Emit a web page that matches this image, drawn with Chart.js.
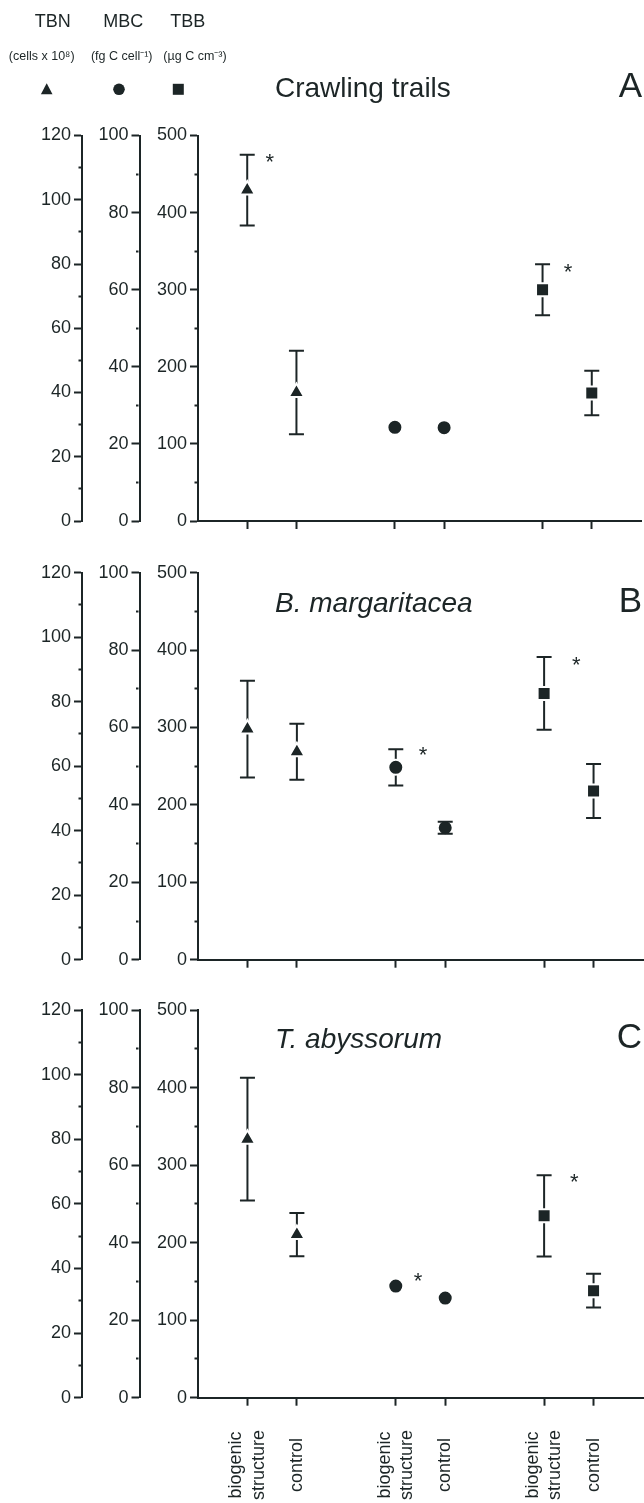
<!DOCTYPE html>
<html>
<head>
<meta charset="utf-8">
<script src="https://cdn.jsdelivr.net/npm/chart.js@4.4.1/dist/chart.umd.min.js"></script>
<style>
  html, body { margin: 0; background: #fff; overflow: hidden; }
  #wrap { position: relative; width: 644px; height: 1503px; }
  .box { position: absolute; left: 0; width: 644px; }
  canvas { display: block; }
</style>
</head>
<body>
<div id="wrap">
  <div class="box" style="top:0;height:540px"><canvas id="chartA"></canvas></div>
  <div class="box" style="top:540px;height:440px"><canvas id="chartB"></canvas></div>
  <div class="box" style="top:980px;height:523px"><canvas id="chartC"></canvas></div>
</div>
<script>
/* datos */
const xTicks = [1, 2, 4, 5, 7, 8];
const xLabels = [["biogenic", "structure"], "control", ["biogenic", "structure"], "control", ["biogenic", "structure"], "control"];
const panelTitles = ["Crawling trails", "B. margaritacea", "T. abyssorum"];
const panelLetters = ["A", "B", "C"];

// TBN (cells x 10^8) -> biogenic structure, control
const tbnMean = [[103, 40], [71.5, 64.5], [80, 50.5]];
const tbnErr = [[11, 13], [15, 8.7], [19, 6.7]];
// MBC (fg C cell-1)
const mbcMean = [[24.3, 24.2], [49.7, 34.1], [28.8, 25.7]];
const mbcErr = [[0, 0], [4.7, 1.55], [0, 0]];
// TBB (ug C cm-3)
const tbbMean = [[300, 166], [344, 218], [234.5, 138]];
const tbbErr = [[33, 29], [47, 35], [52.5, 21.7]];

// asteriscos: x, eje, y
const stars = [
  [[1.46, "yTBN", 113.4], [7.52, "yTBB", 330.7]],
  [[4.55, "yMBC", 54.4], [7.65, "yTBB", 388.5]],
  [[4.45, "yMBC", 31.6], [7.61, "yTBB", 285]]
];

const tbnLabels = [0, 20, 40, 60, 80, 100, 120];
const mbcLabels = [0, 20, 40, 60, 80, 100];
const tbbLabels = [0, 100, 200, 300, 400, 500];

const ink = "#1c2526";
const FONT = "'Liberation Sans', Arial, Helvetica, sans-serif";

/* barras de error: linea antes de los puntos, topes despues */
function eachBar(chart, fn) {
  const xs = chart.scales.x;
  chart.data.datasets.forEach(ds => {
    const ys = chart.scales[ds.yAxisID];
    ds.data.forEach((p, i) => {
      const e = ds.errors[i];
      if (!e) return;
      fn(xs.getPixelForValue(p.x), ys.getPixelForValue(p.y + e), ys.getPixelForValue(p.y - e));
    });
  });
}
const errorBars = {
  id: "errorBars",
  beforeDatasetsDraw(chart) {
    const ctx = chart.ctx;
    ctx.save();
    ctx.strokeStyle = ink;
    ctx.lineWidth = 2;
    eachBar(chart, (px, top, bot) => {
      ctx.beginPath();
      ctx.moveTo(px, top); ctx.lineTo(px, bot);
      ctx.stroke();
    });
    ctx.restore();
  },
  afterDatasetsDraw(chart) {
    const ctx = chart.ctx;
    ctx.save();
    ctx.strokeStyle = ink;
    ctx.lineWidth = 2;
    eachBar(chart, (px, top, bot) => {
      ctx.beginPath();
      ctx.moveTo(px - 7.5, top); ctx.lineTo(px + 7.5, top);
      ctx.moveTo(px - 7.5, bot); ctx.lineTo(px + 7.5, bot);
      ctx.stroke();
    });
    ctx.restore();
  }
};

function panelPlugin(p, dy) {
  return {
    id: "panelText" + p,
    afterDraw(chart) {
      const { ctx, chartArea } = chart;
      ctx.save();
      ctx.fillStyle = ink;
      ctx.textBaseline = "alphabetic";
      ctx.textAlign = "left";
      ctx.font = (p > 0 ? "italic " : "") + "28px " + FONT;
      ctx.fillText(panelTitles[p], chartArea.left + 77, chartArea.top + dy);
      ctx.textAlign = "right";
      ctx.font = "35px " + FONT;
      ctx.fillText(panelLetters[p], 642, chartArea.top + dy);
      // asteriscos
      ctx.textAlign = "center";
      ctx.font = "22px " + FONT;
      stars[p].forEach(([xv, axis, yv]) => {
        const px = chart.scales.x.getPixelForValue(xv);
        const py = chart.scales[axis].getPixelForValue(yv);
        ctx.fillText("*", px, py + 0.575 * 22);
      });
      ctx.restore();
    }
  };
}

/* etiquetas del eje x, centradas y giradas (solo panel C) */
const xText = {
  id: "xText",
  afterDraw(chart) {
    const { ctx, chartArea } = chart;
    const xs = chart.scales.x;
    const lh = 22.3;
    ctx.save();
    ctx.fillStyle = ink;
    ctx.font = "18px " + FONT;
    ctx.textAlign = "center";
    ctx.textBaseline = "middle";
    xTicks.forEach((v, i) => {
      const lines = Array.isArray(xLabels[i]) ? xLabels[i] : [xLabels[i]];
      ctx.save();
      ctx.translate(xs.getPixelForValue(v), chartArea.bottom + 67.3);
      ctx.rotate(-Math.PI / 2);
      lines.forEach((t, j) => ctx.fillText(t, 0, (j - (lines.length - 1) / 2) * lh));
      ctx.restore();
    });
    ctx.restore();
  }
};

/* cabecera con las variables (panel A) */
const header = {
  id: "header",
  afterDraw(chart) {
    const ctx = chart.ctx;
    ctx.save();
    ctx.fillStyle = ink;
    ctx.textAlign = "center";
    ctx.textBaseline = "alphabetic";
    ctx.font = "18px " + FONT;
    [["TBN", 52.7], ["MBC", 123.3], ["TBB", 187.7]].forEach(([t, x]) => ctx.fillText(t, x, 27.3));
    ctx.font = "12.5px " + FONT;
    [["(cells x 10\u2078)", 41.7], ["(fg C cell\u207B\u00B9)", 121.7], ["(\u00B5g C cm\u207B\u00B3)", 195]].forEach(([t, x]) => ctx.fillText(t, x, 59.5));
    // simbolos
    ctx.beginPath();
    ctx.moveTo(46.7, 83.3); ctx.lineTo(52.5, 94.3); ctx.lineTo(40.9, 94.3); ctx.closePath();
    ctx.fill();
    ctx.beginPath();
    ctx.arc(119, 89.3, 5.8, 0, Math.PI * 2);
    ctx.fill();
    ctx.fillRect(172.8, 83.8, 11, 11);
    ctx.restore();
  }
};

function yAxis(max, step, labels, weight, width) {
  return {
    type: "linear",
    position: "left",
    min: 0,
    max: max,
    weight: weight,
    afterFit: s => { s.width = width; },
    ticks: {
      stepSize: step,
      autoSkip: false,
      color: ink,
      padding: 3,
      font: { family: FONT, size: 18 },
      callback: v => labels.includes(v) ? String(v) : ""
    },
    grid: {
      drawOnChartArea: false,
      tickLength: 8,
      tickWidth: 2,
      tickColor: ink,
      tickBorderDash: c => labels.includes(c.tick.value) ? [] : [0, 4.5, 2.5, 10]
    },
    border: { display: true, color: ink, width: 2 }
  };
}

function makeChart(id, p, pad, xh, extra) {
  const pts = (arr, off) => arr[p].map((v, i) => ({ x: xTicks[off + i], y: v }));
  const base = {
    showLine: false,
    pointBackgroundColor: ink,
    pointBorderColor: "#fff",
    pointBorderWidth: 2,
  };
  return new Chart(document.getElementById(id), {
    type: "scatter",
    data: {
      datasets: [
        { ...base, label: "TBN", yAxisID: "yTBN", pointStyle: "triangle", pointRadius: 9, pointHoverRadius: 9, data: pts(tbnMean, 0), errors: tbnErr[p] },
        { ...base, label: "MBC", yAxisID: "yMBC", pointStyle: "circle", pointRadius: 7.5, pointHoverRadius: 7.5, data: pts(mbcMean, 2), errors: mbcErr[p] },
        { ...base, label: "TBB", yAxisID: "yTBB", pointStyle: "rect", pointRadius: 9.2, pointHoverRadius: 9.2, data: pts(tbbMean, 4), errors: tbbErr[p] }
      ]
    },
    options: {
      responsive: true,
      maintainAspectRatio: false,
      animation: false,
      events: [],
      layout: { padding: pad, autoPadding: false },
      plugins: { legend: { display: false }, tooltip: { enabled: false } },
      scales: {
        x: {
          type: "linear",
          position: "bottom",
          min: 0,
          max: 9,
          afterBuildTicks: s => { s.ticks = xTicks.map(v => ({ value: v })); },
          afterFit: s => { s.height = xh; },
          ticks: { display: false },
          grid: { drawOnChartArea: false, tickLength: 8, tickWidth: 2, tickColor: ink },
          border: { display: true, color: ink, width: 2 }
        },
        yTBN: yAxis(120, 10, tbnLabels, 3, 82),
        yMBC: yAxis(100, 10, mbcLabels, 2, 57.5),
        yTBB: yAxis(500, 50, tbbLabels, 1, 58.5)
      }
    },
    plugins: [errorBars].concat(extra)
  });
}

const chartA = makeChart("chartA", 0, { top: 135.5, bottom: 9, left: 0, right: 3 }, 10, [panelPlugin(0, -38.7), header]);
const chartB = makeChart("chartB", 1, { top: 32.7, bottom: 10.3, left: 0, right: 1 }, 10, [panelPlugin(1, 39.5)]);
const chartC = makeChart("chartC", 2, { top: 30, bottom: 0, left: 0, right: 1 }, 105.3, [panelPlugin(2, 38), xText]);
</script>
</body>
</html>
